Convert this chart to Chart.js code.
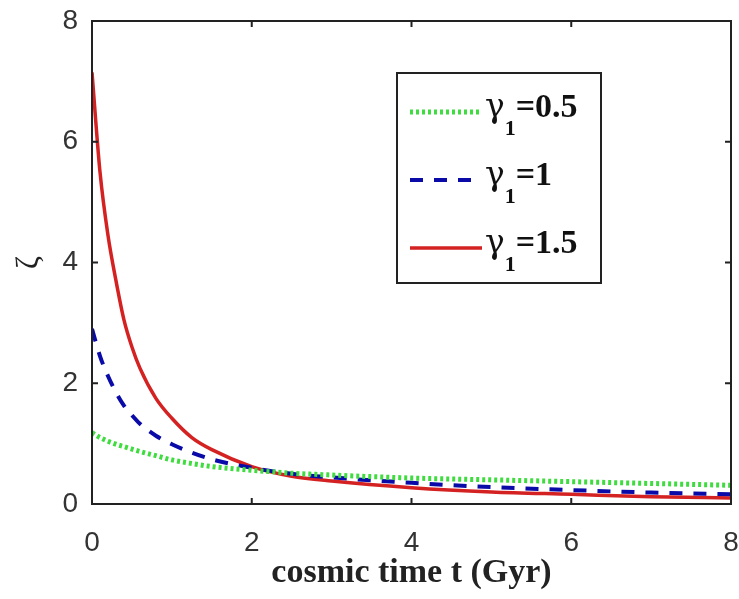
<!DOCTYPE html>
<html>
<head>
<meta charset="utf-8">
<script src="https://cdn.jsdelivr.net/npm/chart.js@4.4.0/dist/chart.umd.min.js"></script>
<style>
  html, body { margin: 0; padding: 0; background: #fff; }
  #canvas { display: block; }
</style>
</head>
<body>
<canvas id="canvas" width="739" height="599"></canvas>
<script>
    // cosmic time t (Gyr) and zeta for three gamma_1 values
    const tVals   = [0, 0.1, 0.2, 0.3, 0.4, 0.5, 0.6, 0.8, 1.0, 1.25, 1.5, 2, 2.5, 3, 4, 5, 6, 7, 8];
    const zeta05  = [1.18, 1.1, 1.04, 0.99, 0.95, 0.91, 0.87, 0.8, 0.73, 0.67, 0.62, 0.56, 0.51, 0.48, 0.43, 0.4, 0.37, 0.34, 0.31];
    const zeta1   = [2.9, 2.45, 2.12, 1.85, 1.63, 1.47, 1.33, 1.13, 0.99, 0.85, 0.74, 0.6, 0.5, 0.44, 0.35, 0.28, 0.23, 0.19, 0.16];
    const zeta15  = [7.15, 5.5, 4.45, 3.7, 3.05, 2.6, 2.25, 1.75, 1.42, 1.1, 0.9, 0.62, 0.46, 0.38, 0.27, 0.2, 0.16, 0.12, 0.1];
    const labels  = ["=0.5", "=1", "=1.5"];
    const xTicks  = [0, 2, 4, 6, 8];
    const yTicks  = [0, 2, 4, 6, 8];

    const toPts = (ys) => tVals.map((t, i) => ({ x: t, y: ys[i] }));

    // box, inward ticks and the legend (MATLAB style)
    const framePlugin = {
      id: "frame",
      afterDatasetsDraw(chart) {
        const ctx = chart.ctx;
        const a = chart.chartArea;
        const xs = chart.scales.x, ys = chart.scales.y;
        ctx.save();
        ctx.strokeStyle = "#222";
        ctx.lineWidth = 2;
        ctx.strokeRect(a.left, a.top, a.right - a.left, a.bottom - a.top);
        ctx.beginPath();
        xTicks.forEach(v => {
          const px = xs.getPixelForValue(v);
          ctx.moveTo(px, a.bottom); ctx.lineTo(px, a.bottom - 6);
          ctx.moveTo(px, a.top); ctx.lineTo(px, a.top + 6);
        });
        yTicks.forEach(v => {
          const py = ys.getPixelForValue(v);
          ctx.moveTo(a.left, py); ctx.lineTo(a.left + 6, py);
          ctx.moveTo(a.right, py); ctx.lineTo(a.right - 6, py);
        });
        ctx.stroke();

        // legend
        const bx = a.left + 305, by = a.top + 52, bw = 204, bh = 210;
        ctx.fillStyle = "#fff";
        ctx.fillRect(bx, by, bw, bh);
        ctx.strokeStyle = "#222";
        ctx.lineWidth = 2;
        ctx.strokeRect(bx, by, bw, bh);
        chart.data.datasets.forEach((ds, i) => {
          const ly = by + 39 + i * 68;
          ctx.beginPath();
          ctx.strokeStyle = ds.borderColor;
          ctx.lineWidth = ds.borderWidth;
          ctx.setLineDash(ds.borderDash || []);
          ctx.moveTo(bx + 13, ly);
          ctx.lineTo(bx + 85, ly);
          ctx.stroke();
          ctx.setLineDash([]);
          ctx.fillStyle = "#111";
          ctx.textBaseline = "alphabetic";
          ctx.textAlign = "left";
          let x = bx + 88;
          ctx.font = "33px 'DejaVu Serif'";
          ctx.fillText("\u03b3", x, ly + 5);
          x += ctx.measureText("\u03b3").width;
          ctx.font = "bold 22px 'Liberation Serif'";
          ctx.fillText("1", x, ly + 23);
          x += ctx.measureText("1").width;
          ctx.font = "bold 34px 'Liberation Serif'";
          ctx.fillText(labels[i], x, ly + 5);
        });
        ctx.restore();
      }
    };

    const chart = new Chart(document.getElementById("canvas"), {
      type: "line",
      data: {
        datasets: [
          { label: "0.5", data: toPts(zeta05), borderColor: "#3fdc3f", borderWidth: 5, borderDash: [3, 3] },
          { label: "1",   data: toPts(zeta1),  borderColor: "#0a0aa8", borderWidth: 4, borderDash: [13, 11] },
          { label: "1.5", data: toPts(zeta15), borderColor: "#d42121", borderWidth: 3.5 }
        ]
      },
      options: {
        responsive: false,
        animation: false,
        elements: { point: { radius: 0 }, line: { cubicInterpolationMode: "monotone" } },
        layout: { padding: { left: 0, right: 8, top: 21, bottom: 0 } },
        plugins: { legend: { display: false }, tooltip: { enabled: false } },
        scales: {
          x: {
            type: "linear", min: 0, max: 8,
            afterFit: (s) => { s.height = 95; s.paddingLeft = 0; s.paddingRight = 0; },
            afterBuildTicks: (s) => { s.ticks = xTicks.map(v => ({ value: v })); },
            grid: { display: false }, border: { display: false },
            ticks: { padding: 14, color: "#333", font: { family: "'Liberation Sans'", size: 28 } },
            title: { display: true, text: "cosmic time t (Gyr)", color: "#222",
                     padding: { top: 0, bottom: 5 },
                     font: { family: "'Liberation Serif'", size: 34, weight: "bold" } }
          },
          y: {
            type: "linear", min: 0, max: 8,
            afterFit: (s) => { s.width = 92; s.paddingTop = 0; s.paddingBottom = 0; },
            afterBuildTicks: (s) => { s.ticks = yTicks.map(v => ({ value: v })); },
            grid: { display: false }, border: { display: false },
            ticks: { padding: 6, color: "#333", font: { family: "'Liberation Sans'", size: 28 } },
            title: { display: true, text: "\u03b6", color: "#222",
                     padding: { top: 10, bottom: 0 },
                     font: { family: "'Liberation Serif'", size: 32 } }
          }
        }
      },
      plugins: [framePlugin]
    });
</script>
</body>
</html>
